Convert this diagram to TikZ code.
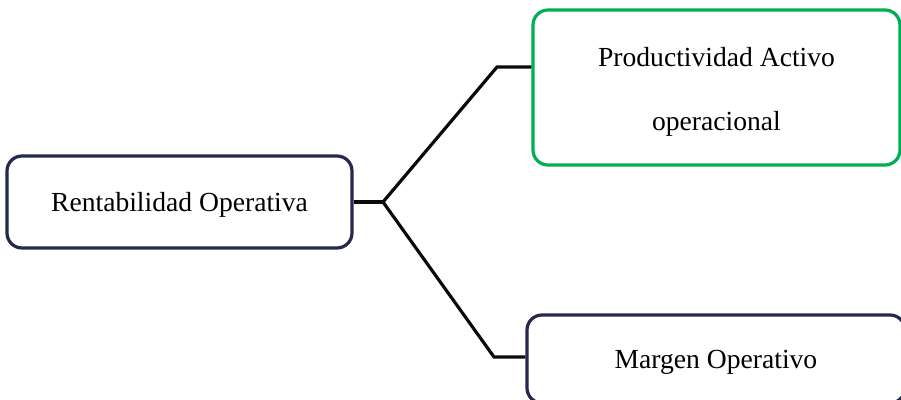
\documentclass[tikz,border=0pt]{standalone}
\usepackage{fontspec}
\setmainfont{Liberation Serif}
\usepackage{tikz}
\usetikzlibrary{positioning, calc}
\definecolor{mynavy}{RGB}{38,40,78}
\definecolor{mygreen}{RGB}{0,176,80}
\definecolor{mydark}{RGB}{10,10,10}
\tikzset{
  box/.style={rectangle, draw=mynavy, fill=white, align=center,
    font=\fontsize{13.8}{32}\selectfont, rounded corners=7.5pt, line width=1.6pt,
    inner sep=0pt},
  onebox/.style={box, text height=11.5pt, text depth=1.5pt},
  greenbox/.style={box, draw=mygreen},
  line/.style={line width=1.6pt, color=mydark}
}
\begin{document}
\begin{tikzpicture}[x=0.5pt, y=-0.5pt]
  \useasboundingbox (0,0) rectangle (901,400);

  % Nodes
  \node[onebox, minimum width=172.5pt, minimum height=46pt] (rent) at (179.5,202) {Rentabilidad Operativa};
  \node[greenbox, minimum width=183.5pt, minimum height=77.5pt] (prod) at (716.5,87.5) {\rule{0pt}{13.5pt}Productividad Activo\\operacional};
  \node[onebox, minimum width=189pt, minimum height=44pt] (marg) at (716,359) {Margen Operativo};

  % Paths
  \coordinate (split) at (383,202);
  \coordinate (kup) at (497,67);
  \coordinate (kdown) at (494,357);
  \draw[line] (rent.east) -- (split);
  \draw[line] (split) -- (kup) -- (kup -| prod.west);
  \draw[line] (split) -- (kdown) -- (kdown -| marg.west);
\end{tikzpicture}
\end{document}
